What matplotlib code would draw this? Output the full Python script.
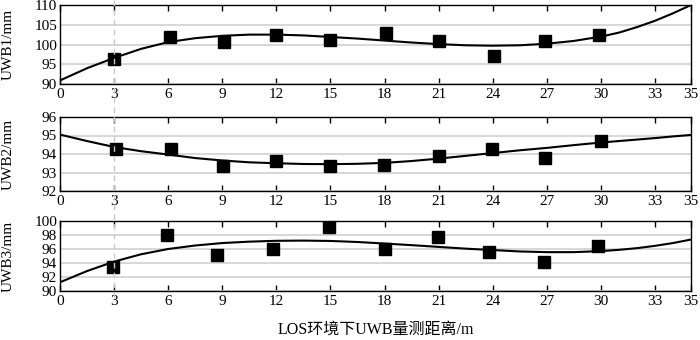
import matplotlib
matplotlib.use("Agg")
import matplotlib.pyplot as plt
from matplotlib.lines import Line2D
from matplotlib.transforms import blended_transform_factory

plt.rcParams['font.family'] = ['Liberation Serif', 'Noto Sans CJK SC']
plt.rcParams['mathtext.fontset'] = 'stix'

# Measured points
x1 = [3.0, 6.1, 9.1, 12.0, 15.0, 18.1, 21.0, 24.05, 26.9, 29.9]
y1 = [96.4, 101.9, 100.7, 102.5, 101.1, 102.9, 101.0, 97.2, 100.8, 102.5]
x2 = [3.1, 6.15, 9.05, 12.0, 15.0, 17.95, 21.0, 23.95, 26.9, 30.0]
y2 = [94.28, 94.28, 93.33, 93.62, 93.37, 93.38, 93.88, 94.28, 93.76, 94.7]
x3 = [2.95, 5.95, 8.72, 11.82, 14.92, 18.0, 20.98, 23.82, 26.87, 29.82]
y3 = [93.4, 98.05, 95.1, 96.0, 99.1, 96.0, 97.76, 95.6, 94.1, 96.43]

# Fitted curves
cx = [0, 1.5, 3, 4.5, 6, 7.5, 9, 10.5, 12, 13.5, 15, 16.5, 18, 19.5, 21, 22.5,
      24, 25.5, 27, 28.5, 30, 31, 32, 33, 34, 35]
c1 = [90.9, 94.0, 96.6, 98.9, 100.6, 101.6, 102.2, 102.5, 102.5, 102.3, 101.9,
      101.5, 101.0, 100.5, 100.1, 99.8, 99.7, 99.8, 100.2, 100.9, 102.0, 103.0,
      104.4, 106.0, 107.9, 110.0]
c2 = [95.05, 94.7, 94.38, 94.15, 93.97, 93.78, 93.65, 93.55, 93.5, 93.46, 93.45,
      93.47, 93.52, 93.62, 93.75, 93.9, 94.05, 94.2, 94.33, 94.48, 94.62, 94.7,
      94.78, 94.86, 94.95, 95.03]
c3 = [91.25, 92.85, 94.2, 95.25, 96.0, 96.5, 96.85, 97.05, 97.17, 97.2, 97.15,
      97.0, 96.78, 96.55, 96.3, 96.05, 95.85, 95.65, 95.55, 95.55, 95.7, 95.88,
      96.12, 96.45, 96.85, 97.35]

xticks = [0, 3, 6, 9, 12, 15, 18, 21, 24, 27, 30, 33, 35]
yticks1 = [90, 95, 100, 105, 110]
yticks2 = [92, 93, 94, 95, 96]
yticks3 = [90, 92, 94, 96, 98, 100]
ylabels = ['UWB1/mm', 'UWB2/mm', 'UWB3/mm']
xlabel = 'LOS环境下UWB量测距离/m'

fig = plt.figure(figsize=(7.0, 3.4), dpi=100)
W, H = 700, 340
boxes = [(5, 84), (117, 191), (221, 291)]
left, right = 60, 691
axes = []
data = [(x1, y1, c1, yticks1), (x2, y2, c2, yticks2), (x3, y3, c3, yticks3)]
for (top, bot), (xs, ys, cs, yt), yl in zip(boxes, data, ylabels):
    ax = fig.add_axes([left / W, 1 - bot / H, (right - left) / W, (bot - top) / H])
    ax.set_xlim(0, 35)
    ax.set_ylim(yt[0], yt[-1])
    ax.set_yticks(yt)
    ax.set_xticks(xticks)
    ax.grid(axis='y', color='#d4d4d4', linewidth=1.3)
    ax.set_axisbelow(True)
    ax.plot(cx, cs, color='black', linewidth=1.5, zorder=3)
    ax.plot(xs, ys, linestyle='none', marker='s', markersize=8.5,
            color='black', zorder=4)
    ax.tick_params(axis='x', direction='in', top=True, bottom=True, length=4,
                   width=1.0, labelsize=11, pad=3)
    ax.tick_params(axis='y', direction='in', left=False, right=False,
                   labelsize=11, pad=2)
    for s in ax.spines.values():
        s.set_linewidth(1.0)
    ax.set_ylabel(yl, fontsize=11, labelpad=4)
    axes.append(ax)

for ax in axes:
    ax.yaxis.set_label_coords(-0.072, 0.5)

axes[2].set_xlabel(xlabel, fontsize=11.5, labelpad=10)

# dashed vertical reference line at x=3 across the figure
tr = blended_transform_factory(axes[0].transData, fig.transFigure)
fig.lines.append(Line2D([3, 3], [1.0, 1 - 300 / H], transform=tr,
                        color='#c8c8c8', linestyle=(0, (4, 3)), linewidth=1.0,
                        zorder=0))

fig.savefig('out.png', dpi=100)
